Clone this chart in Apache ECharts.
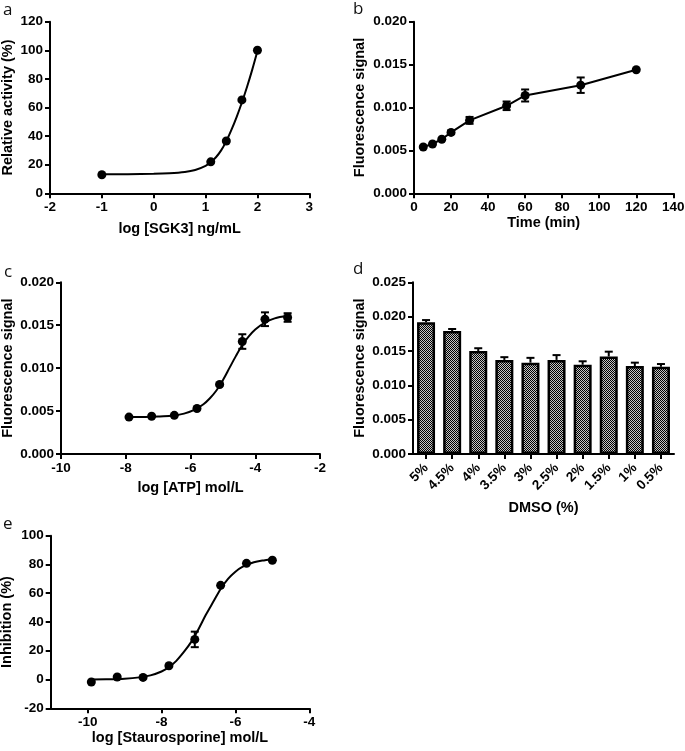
<!DOCTYPE html>
<html>
<head>
<meta charset="utf-8">
<script src="https://cdn.jsdelivr.net/npm/echarts@6/dist/echarts.min.js"></script>
<style>
html,body{margin:0;padding:0;background:#fff;}
#chart{width:685px;height:751px;}
</style>
</head>
<body>
<div id="chart"></div>
<script>
// ---- Panel a: SGK3 titration ----
const aX = [-1, 1.1, 1.4, 1.7, 2.0];
const aY = [13.0, 22.0, 36.6, 65.3, 100.0];
const aFitX = [-1, -0.5, 0, 0.3, 0.6, 0.8, 1.0, 1.1, 1.2, 1.3, 1.4, 1.5, 1.6, 1.7, 1.8, 1.9, 2.0];
const aFitY = [13.3, 13.4, 13.6, 14.0, 14.9, 16.3, 19.2, 21.8, 25.2, 30.0, 36.5, 44.5, 53.5, 63.5, 74.5, 86.5, 99.5];

// ---- Panel b: time course ----
const bX = [5, 10, 15, 20, 30, 50, 60, 90, 120];
const bY = [0.0054, 0.00575, 0.0063, 0.0071, 0.0085, 0.0102, 0.0114, 0.0126, 0.0144];
const bErr = [0, 0, 0, 0.0002, 0.0004, 0.0005, 0.0007, 0.0009, 0];

// ---- Panel c: ATP titration ----
const cX = [-7.9, -7.2, -6.5, -5.8, -5.1, -4.4, -3.7, -3.0];
const cY = [0.0043, 0.0044, 0.0045, 0.0053, 0.0081, 0.0131, 0.0157, 0.0159];
const cErr = [0, 0, 0, 0.0001, 0.0001, 0.00085, 0.0008, 0.0005];
const cFitX = [-7.9, -7.4, -7.0, -6.6, -6.2, -5.9, -5.6, -5.4, -5.2, -5.0, -4.8, -4.6, -4.4, -4.2, -4.0, -3.7, -3.4, -3.0];
const cFitY = [0.0043, 0.00432, 0.00436, 0.00445, 0.0047, 0.0051, 0.0058, 0.0065, 0.0074, 0.0086, 0.0100, 0.0114, 0.0127, 0.0137, 0.0145, 0.0153, 0.0158, 0.0161];

// ---- Panel d: DMSO tolerance ----
const dCats = ['5%', '4.5%', '4%', '3.5%', '3%', '2.5%', '2%', '1.5%', '1%', '0.5%'];
const dVals = [0.0192, 0.0179, 0.0150, 0.0137, 0.0133, 0.0137, 0.0130, 0.0142, 0.0128, 0.0127];
const dErr = [0.0003, 0.0003, 0.0004, 0.0004, 0.0007, 0.0007, 0.0005, 0.0007, 0.0005, 0.0004];

// ---- Panel e: staurosporine inhibition ----
const eX = [-9.9, -9.2, -8.5, -7.8, -7.1, -6.4, -5.7, -5.0];
const eY = [-1.7, 1.8, 1.5, 9.6, 27.9, 65.5, 80.8, 82.9];
const eErr = [0, 0, 0, 0, 5.4, 0, 0, 0];
const eFitX = [-9.9, -9.5, -9.0, -8.6, -8.3, -8.0, -7.8, -7.6, -7.4, -7.2, -7.0, -6.8, -6.6, -6.4, -6.2, -6.0, -5.8, -5.5, -5.2, -5.0];
const eFitY = [0.1, 0.2, 0.6, 1.5, 2.9, 5.6, 8.6, 13.0, 19.0, 26.0, 35.0, 45.0, 54.0, 63.0, 70.0, 75.0, 78.5, 81.5, 83.0, 83.8];

const eTicks = [-10, -8, -6, -4];
const panelLetters = ['a', 'b', 'c', 'd', 'e'];

// ---- helpers ----
const FONT = 'Arial, "Liberation Sans", sans-serif';
const LBL = 13.5;
const zip = (xs, ys) => xs.map((x, i) => [x, ys[i]]);
const zip3 = (xs, ys, es) => xs.map((x, i) => [x, ys[i], es[i]]);

function lbl(extra) {
  return Object.assign({ color: '#000', fontFamily: FONT, fontWeight: 'bold', fontSize: LBL, margin: 7 }, extra || {});
}

function baseAxis(extra) {
  return Object.assign({
    axisLine: { show: true, onZero: false, lineStyle: { color: '#000', width: 2 } },
    axisTick: { show: true, length: 5, lineStyle: { color: '#000', width: 2 } },
    axisLabel: lbl(),
    splitLine: { show: false },
    nameLocation: 'middle',
    nameTextStyle: { color: '#000', fontFamily: FONT, fontWeight: 'bold', fontSize: 14.5 }
  }, extra);
}

function errRender(upOnly) {
  return function (params, api) {
    const x = api.value(0), y = api.value(1), e = api.value(2);
    if (!e) return null;
    const top = api.coord([x, y + e]);
    const bot = api.coord([x, upOnly ? y : y - e]);
    const hw = 4;
    const style = { stroke: '#000', lineWidth: 2 };
    const children = [
      { type: 'line', shape: { x1: top[0], y1: top[1], x2: bot[0], y2: bot[1] }, style },
      { type: 'line', shape: { x1: top[0] - hw, y1: top[1], x2: top[0] + hw, y2: top[1] }, style }
    ];
    if (!upOnly) children.push({ type: 'line', shape: { x1: bot[0] - hw, y1: bot[1], x2: bot[0] + hw, y2: bot[1] }, style });
    return { type: 'group', children };
  };
}

// checker pattern for bars
const pc = document.createElement('canvas');
pc.width = 2; pc.height = 2;
const pctx = pc.getContext('2d');
pctx.fillStyle = '#c4c4c4'; pctx.fillRect(0, 0, 2, 2);
pctx.fillStyle = '#000000'; pctx.fillRect(0, 0, 1, 1); pctx.fillRect(1, 1, 1, 1);

const chart = echarts.init(document.getElementById('chart'), null, { renderer: 'canvas' });

const f3 = v => v.toFixed(3);
const dot = { color: '#000', opacity: 1 };

const option = {
  animation: false,
  backgroundColor: '#fff',
  grid: [
    { left: 50, top: 21.7, width: 259.3, height: 171.6, outerBoundsMode: 'none' },
    { left: 414, top: 21.7, width: 259.3, height: 171.6, outerBoundsMode: 'none' },
    { left: 61, top: 282.3, width: 259, height: 171.7, outerBoundsMode: 'none' },
    { left: 413, top: 282.3, width: 261, height: 171.7, outerBoundsMode: 'none' },
    { left: 50.7, top: 535.7, width: 258.6, height: 172.6, outerBoundsMode: 'none' }
  ],
  xAxis: [
    baseAxis({ gridIndex: 0, type: 'value', min: -2, max: 3, interval: 1, name: 'log [SGK3] ng/mL', nameGap: 28 }),
    baseAxis({ gridIndex: 1, type: 'value', min: 0, max: 140, interval: 20, name: 'Time (min)', nameGap: 17 }),
    baseAxis({ gridIndex: 2, type: 'value', min: -10, max: -2, interval: 2, name: 'log [ATP] mol/L', nameGap: 26 }),
    baseAxis({ gridIndex: 3, type: 'category', data: dCats, name: 'DMSO (%)', nameGap: 46,
      axisTick: { show: true, alignWithLabel: true, length: 5, lineStyle: { color: '#000', width: 2 } },
      axisLabel: lbl({ rotate: 45, interval: 0, margin: 12 }) }),
    baseAxis({ gridIndex: 4, type: 'value', min: -11, max: -4, name: 'log [Staurosporine] mol/L', nameGap: 22,
      axisTick: { show: true, length: 5, customValues: eTicks, lineStyle: { color: '#000', width: 2 } },
      axisLabel: lbl({ customValues: eTicks }) })
  ],
  yAxis: [
    baseAxis({ gridIndex: 0, type: 'value', min: 0, max: 120, interval: 20, name: 'Relative activity (%)', nameGap: 35 }),
    baseAxis({ gridIndex: 1, type: 'value', min: 0, max: 0.02, interval: 0.005, name: 'Fluorescence signal', nameGap: 47,
      axisLabel: lbl({ formatter: f3 }) }),
    baseAxis({ gridIndex: 2, type: 'value', min: 0, max: 0.02, interval: 0.005, name: 'Fluorescence signal', nameGap: 46,
      axisLabel: lbl({ formatter: f3 }) }),
    baseAxis({ gridIndex: 3, type: 'value', min: 0, max: 0.025, interval: 0.005, name: 'Fluorescence signal', nameGap: 46,
      axisLabel: lbl({ formatter: f3 }) }),
    baseAxis({ gridIndex: 4, type: 'value', min: -20, max: 100, interval: 20, name: 'Inhibition (%)', nameGap: 36 })
  ],
  graphic: panelLetters.map((t, i) => ({
    type: 'text',
    left: [3, 353, 4, 353, 3][i],
    top: [2, 1, 264, 261, 516][i],
    style: { text: t, fontSize: 17, fontFamily: '"Open Sans", sans-serif', fill: '#111' }
  })),
  series: [
    // a
    { type: 'line', xAxisIndex: 0, yAxisIndex: 0, data: zip(aFitX, aFitY), showSymbol: false, smooth: 0.3,
      lineStyle: { color: '#000', width: 2 }, z: 2 },
    { type: 'scatter', xAxisIndex: 0, yAxisIndex: 0, data: zip(aX, aY), symbolSize: 9, itemStyle: dot, z: 3 },
    // b
    { type: 'line', xAxisIndex: 1, yAxisIndex: 1, data: zip(bX, bY), symbol: 'circle', symbolSize: 9,
      itemStyle: dot, lineStyle: { color: '#000', width: 2 }, z: 3 },
    { type: 'custom', xAxisIndex: 1, yAxisIndex: 1, data: zip3(bX, bY, bErr), renderItem: errRender(false), z: 4 },
    // c
    { type: 'line', xAxisIndex: 2, yAxisIndex: 2, data: zip(cFitX, cFitY), showSymbol: false, smooth: 0.3,
      lineStyle: { color: '#000', width: 2 }, z: 2 },
    { type: 'scatter', xAxisIndex: 2, yAxisIndex: 2, data: zip(cX, cY), symbolSize: 9, itemStyle: dot, z: 3 },
    { type: 'custom', xAxisIndex: 2, yAxisIndex: 2, data: zip3(cX, cY, cErr), renderItem: errRender(false), z: 4 },
    // d
    { type: 'bar', xAxisIndex: 3, yAxisIndex: 3, data: dVals, barWidth: 18,
      itemStyle: { color: { image: pc, repeat: 'repeat' }, borderColor: '#000', borderWidth: 2.5 }, z: 2 },
    { type: 'custom', xAxisIndex: 3, yAxisIndex: 3, data: dCats.map((c, i) => [i, dVals[i], dErr[i]]), renderItem: errRender(true), z: 4 },
    // e
    { type: 'line', xAxisIndex: 4, yAxisIndex: 4, data: zip(eFitX, eFitY), showSymbol: false, smooth: 0.3,
      lineStyle: { color: '#000', width: 2 }, z: 2 },
    { type: 'scatter', xAxisIndex: 4, yAxisIndex: 4, data: zip(eX, eY), symbolSize: 9, itemStyle: dot, z: 3 },
    { type: 'custom', xAxisIndex: 4, yAxisIndex: 4, data: zip3(eX, eY, eErr), renderItem: errRender(false), z: 4 }
  ]
};
chart.setOption(option);
</script>
</body>
</html>
